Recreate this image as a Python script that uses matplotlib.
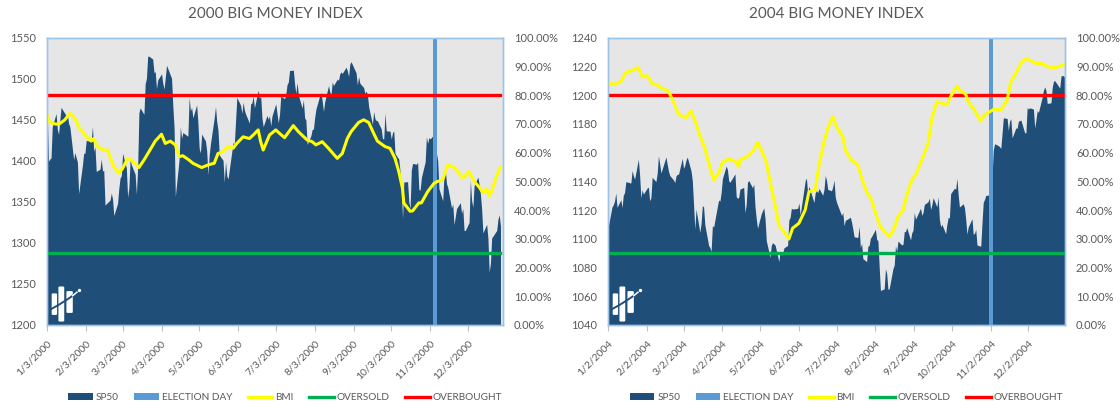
import numpy as np
import pandas as pd
import matplotlib
matplotlib.use('Agg')
import matplotlib.pyplot as plt
from matplotlib.patches import Patch, FancyBboxPatch
from matplotlib.lines import Line2D
from matplotlib.ticker import FuncFormatter, MultipleLocator

plt.rcParams['font.family'] = ['Lato', 'DejaVu Sans']

# ---------------- 2000 data ----------------
holidays_2000 = ['2000-01-17', '2000-02-21', '2000-04-21', '2000-05-29',
                 '2000-07-04', '2000-09-04', '2000-11-23', '2000-12-25']
sp_2000 = [
    # Jan
    1455.2, 1399.4, 1402.1, 1403.5, 1441.5, 1457.6, 1438.6, 1432.3, 1449.7, 1465.2,
    1455.1, 1456.0, 1445.6, 1441.4, 1401.5, 1410.0, 1404.1, 1398.6, 1360.2, 1394.5,
    # Feb
    1409.3, 1409.1, 1425.0, 1424.4, 1424.2, 1441.7, 1411.7, 1416.8, 1387.1, 1389.9,
    1402.1, 1387.7, 1388.3, 1346.1, 1352.2, 1360.7, 1353.4, 1333.4, 1348.1, 1366.4,
    # Mar
    1379.2, 1381.8, 1409.2, 1391.3, 1355.6, 1366.7, 1401.7, 1395.1, 1383.6, 1359.2,
    1392.1, 1458.5, 1464.5, 1456.6, 1493.9, 1500.6, 1527.4, 1527.5, 1523.9, 1507.7,
    1508.5, 1487.9, 1498.6,
    # Apr
    1506.0, 1494.7, 1487.4, 1501.3, 1516.4, 1504.5, 1500.6, 1467.2, 1440.5, 1356.6,
    1401.4, 1441.6, 1427.5, 1434.5, 1429.9, 1477.4, 1461.0, 1464.9, 1452.4,
    # May
    1468.3, 1446.3, 1415.1, 1409.6, 1432.6, 1424.2, 1412.1, 1383.1, 1407.8, 1421.0,
    1452.4, 1466.0, 1447.8, 1437.2, 1407.0, 1400.7, 1373.9, 1399.1, 1381.5, 1378.0,
    1422.4, 1420.6,
    # Jun
    1448.8, 1477.3, 1467.6, 1457.8, 1471.4, 1461.7, 1457.0, 1446.0, 1469.4, 1470.5,
    1478.7, 1464.5, 1486.0, 1476.0, 1479.1, 1452.2, 1441.5, 1455.3, 1450.6, 1454.8,
    1442.4, 1454.6,
    # Jul
    1469.5, 1446.2, 1456.7, 1478.9, 1475.6, 1480.9, 1492.9, 1495.8, 1510.0, 1510.5,
    1493.7, 1482.0, 1495.6, 1480.2, 1464.3, 1474.5, 1452.4, 1449.6, 1419.9, 1430.8,
    # Aug
    1438.1, 1438.7, 1452.6, 1462.9, 1479.3, 1482.8, 1472.9, 1460.3, 1471.8, 1491.6,
    1484.4, 1479.9, 1496.1, 1491.7, 1499.5, 1498.1, 1506.0, 1508.3, 1506.5, 1514.1,
    1509.8, 1502.6, 1517.7,
    # Sep
    1520.8, 1507.1, 1492.3, 1502.5, 1494.5, 1489.3, 1482.0, 1484.9, 1480.9, 1465.8,
    1444.5, 1459.9, 1451.3, 1449.1, 1448.7, 1439.0, 1427.2, 1426.6, 1458.3, 1436.5,
    # Oct
    1436.2, 1426.5, 1434.3, 1436.3, 1409.0, 1402.0, 1387.0, 1364.6, 1329.8, 1374.2,
    1374.6, 1350.0, 1342.1, 1388.8, 1396.9, 1395.8, 1398.1, 1364.9, 1364.4, 1379.6,
    1398.7, 1429.4,
    # Nov
    1421.2, 1428.3, 1426.7, 1432.2, 1431.9, 1409.3, 1400.1, 1366.0, 1351.3, 1383.0,
    1389.8, 1372.3, 1367.7, 1342.6, 1347.4, 1322.4, 1341.8, 1349.0, 1336.1, 1341.9,
    1315.0,
    # Dec
    1315.2, 1325.0, 1376.5, 1351.5, 1343.6, 1369.9, 1380.2, 1371.2, 1360.0, 1340.9,
    1312.2, 1322.7, 1305.6, 1264.7, 1274.9, 1306.0, 1315.2, 1328.9, 1334.2, 1320.3,
]
bmi_2000_dates = [
    '2000-01-03', '2000-01-05', '2000-01-10', '2000-01-13', '2000-01-17', '2000-01-21',
    '2000-01-25', '2000-01-28', '2000-02-02', '2000-02-07', '2000-02-09', '2000-02-11',
    '2000-02-16', '2000-02-20', '2000-02-23', '2000-02-25', '2000-02-29', '2000-03-03',
    '2000-03-07', '2000-03-10', '2000-03-13', '2000-03-16', '2000-03-20', '2000-03-24',
    '2000-03-29', '2000-04-03', '2000-04-06', '2000-04-10', '2000-04-14', '2000-04-17',
    '2000-04-20', '2000-04-25', '2000-04-28', '2000-05-05', '2000-05-10', '2000-05-15',
    '2000-05-18', '2000-05-22', '2000-05-26', '2000-05-30', '2000-06-02', '2000-06-07',
    '2000-06-12', '2000-06-15', '2000-06-19', '2000-06-21', '2000-06-23', '2000-06-28',
    '2000-07-03', '2000-07-06', '2000-07-10', '2000-07-17', '2000-07-21', '2000-07-28',
    '2000-08-01', '2000-08-04', '2000-08-09', '2000-08-14', '2000-08-21', '2000-08-25',
    '2000-08-29', '2000-09-01', '2000-09-07', '2000-09-11', '2000-09-15', '2000-09-19',
    '2000-09-22', '2000-09-28', '2000-10-02', '2000-10-06', '2000-10-09', '2000-10-12',
    '2000-10-13', '2000-10-18', '2000-10-20', '2000-10-25', '2000-10-27', '2000-11-01',
    '2000-11-06', '2000-11-09', '2000-11-13', '2000-11-17', '2000-11-21', '2000-11-24',
    '2000-11-29', '2000-12-04', '2000-12-08', '2000-12-12', '2000-12-15', '2000-12-18',
    '2000-12-20', '2000-12-22', '2000-12-26', '2000-12-29',
]
bmi_2000 = [
    73.1, 70.5, 69.9, 70.1, 71.4, 73.7, 71.9, 69.0, 66.1, 64.0, 64.9, 62.7,
    60.9, 60.9, 57.4, 55.1, 52.8, 54.5, 58.0, 57.4, 56.3, 54.8, 57.4, 60.3,
    64.0, 66.4, 63.2, 64.0, 62.7, 58.6, 58.9, 57.4, 56.3, 54.8, 55.7, 56.3,
    59.7, 60.3, 62.1, 61.5, 63.2, 65.5, 64.9, 66.1, 67.9, 63.8, 60.9, 66.1,
    67.9, 66.7, 65.2, 69.4, 67.3, 64.4, 63.8, 62.7, 63.8, 61.5, 58.0, 59.7,
    64.9, 67.3, 70.5, 71.4, 70.5, 66.7, 64.0, 62.1, 61.5, 58.0, 53.4, 47.4,
    42.5, 39.6, 39.7, 42.5, 42.5, 46.4, 49.3, 50.0, 50.5, 55.7, 55.1, 54.0,
    51.1, 53.4, 50.0, 48.0, 46.0, 47.5, 45.0, 46.5, 52.0, 55.0,
]
ticks_2000 = ['2000-%02d-03' % m for m in range(1, 13)]
election_2000 = '2000-11-07'

# ---------------- 2004 data ----------------
holidays_2004 = ['2004-01-01', '2004-01-19', '2004-02-16', '2004-04-09', '2004-05-31',
                 '2004-06-11', '2004-07-05', '2004-09-06', '2004-11-25', '2004-12-24']
sp_2004 = [
    # Jan
    1108.5, 1122.2, 1123.7, 1126.3, 1131.9, 1121.9, 1127.2, 1121.8, 1130.5, 1132.1,
    1139.8, 1138.8, 1147.6, 1143.9, 1141.6, 1155.4, 1144.1, 1128.5, 1134.1, 1131.1,
    # Feb
    1135.3, 1136.0, 1126.5, 1128.6, 1142.8, 1139.8, 1145.5, 1157.8, 1152.1, 1145.8,
    1157.0, 1151.8, 1147.1, 1144.1, 1141.0, 1139.1, 1143.7, 1144.9, 1144.9,
    # Mar
    1156.0, 1149.1, 1151.0, 1154.9, 1156.9, 1147.2, 1140.6, 1123.9, 1106.8, 1120.6,
    1104.5, 1110.7, 1123.0, 1122.3, 1109.8, 1095.4, 1093.9, 1091.3, 1109.2, 1108.1,
    1122.5, 1127.0, 1126.2,
    # Apr
    1132.2, 1141.8, 1150.6, 1148.2, 1140.5, 1139.3, 1145.2, 1129.4, 1128.2, 1128.8,
    1134.6, 1135.8, 1118.2, 1124.1, 1139.3, 1140.6, 1135.5, 1138.1, 1122.4, 1113.9,
    1107.3,
    # May
    1117.5, 1119.6, 1121.5, 1114.0, 1098.7, 1087.1, 1095.5, 1097.3, 1096.4, 1095.7,
    1084.1, 1091.5, 1088.7, 1089.2, 1093.6, 1095.4, 1113.1, 1114.9, 1121.3, 1120.7,
    # Jun
    1121.2, 1125.0, 1116.6, 1122.5, 1140.4, 1142.2, 1131.3, 1136.5, 1125.3, 1132.0,
    1133.6, 1132.1, 1135.0, 1130.3, 1134.4, 1144.1, 1140.7, 1134.4, 1133.4, 1136.2,
    1140.8,
    # Jul
    1128.9, 1125.4, 1116.2, 1118.3, 1109.1, 1112.8, 1114.4, 1115.1, 1111.5, 1106.7,
    1101.4, 1100.9, 1108.7, 1093.9, 1096.8, 1086.2, 1084.1, 1094.8, 1095.4, 1100.4,
    1101.7,
    # Aug
    1106.6, 1099.7, 1098.6, 1080.7, 1064.0, 1065.2, 1079.0, 1075.8, 1064.8, 1065.2,
    1079.3, 1081.7, 1095.2, 1091.2, 1098.4, 1095.7, 1096.2, 1105.0, 1105.1, 1107.8,
    1099.2, 1104.2,
    # Sep
    1105.9, 1118.3, 1113.6, 1121.3, 1116.3, 1118.4, 1123.9, 1125.8, 1128.3, 1120.4,
    1123.5, 1128.6, 1122.2, 1129.3, 1113.6, 1108.4, 1110.1, 1103.5, 1110.1, 1114.8,
    1114.6,
    # Oct
    1131.5, 1135.2, 1134.5, 1142.1, 1130.7, 1122.1, 1124.4, 1121.8, 1113.7, 1103.3,
    1108.2, 1114.0, 1103.2, 1103.7, 1106.5, 1095.7, 1094.8, 1111.1, 1125.4, 1127.4,
    1130.2,
    # Nov
    1130.5, 1130.6, 1143.2, 1161.7, 1166.2, 1164.9, 1164.1, 1162.9, 1173.5, 1184.2,
    1183.8, 1175.4, 1181.9, 1183.6, 1170.3, 1177.2, 1176.9, 1181.8, 1182.7, 1173.8,
    1173.8,
    # Dec
    1191.4, 1190.3, 1191.2, 1190.3, 1177.1, 1182.8, 1189.2, 1188.0, 1198.7, 1203.4,
    1205.7, 1203.2, 1194.2, 1194.7, 1205.5, 1209.6, 1210.1, 1204.9, 1213.5, 1213.5,
    1213.6, 1211.9,
]
bmi_2004_dates = [
    '2004-01-02', '2004-01-07', '2004-01-12', '2004-01-16', '2004-01-20', '2004-01-26',
    '2004-01-29', '2004-02-02', '2004-02-06', '2004-02-10', '2004-02-13', '2004-02-19',
    '2004-02-23', '2004-02-27', '2004-03-04', '2004-03-08', '2004-03-11', '2004-03-15',
    '2004-03-19', '2004-03-23', '2004-03-26', '2004-03-30', '2004-04-02', '2004-04-07',
    '2004-04-12', '2004-04-15', '2004-04-16', '2004-04-23', '2004-04-27', '2004-04-30',
    '2004-05-03', '2004-05-07', '2004-05-10', '2004-05-14', '2004-05-17', '2004-05-21',
    '2004-05-25', '2004-05-28', '2004-06-02', '2004-06-07', '2004-06-10', '2004-06-15',
    '2004-06-18', '2004-06-22', '2004-06-25', '2004-06-29', '2004-07-02', '2004-07-07',
    '2004-07-09', '2004-07-14', '2004-07-19', '2004-07-22', '2004-07-26', '2004-07-30',
    '2004-08-03', '2004-08-06', '2004-08-13', '2004-08-17', '2004-08-20', '2004-08-24',
    '2004-08-27', '2004-08-31', '2004-09-03', '2004-09-08', '2004-09-13', '2004-09-16',
    '2004-09-20', '2004-09-24', '2004-09-28', '2004-10-01', '2004-10-06', '2004-10-08',
    '2004-10-13', '2004-10-15', '2004-10-20', '2004-10-25', '2004-10-28', '2004-11-01',
    '2004-11-05', '2004-11-10', '2004-11-15', '2004-11-18', '2004-11-22', '2004-11-26',
    '2004-11-30', '2004-12-03', '2004-12-08', '2004-12-13', '2004-12-17', '2004-12-22',
    '2004-12-27', '2004-12-31',
]
bmi_2004 = [
    84.1, 83.8, 84.7, 87.9, 88.4, 89.6, 86.4, 86.8, 84.1, 83.5, 82.6, 81.4,
    77.7, 73.3, 72.2, 74.5, 71.4, 66.1, 61.5, 55.1, 50.5, 52.8, 56.6, 57.8,
    57.1, 55.1, 57.4, 58.9, 60.9, 63.6, 60.9, 56.8, 49.9, 41.8, 34.8, 32.5,
    29.9, 33.7, 35.4, 40.0, 46.4, 46.9, 55.5, 63.8, 68.5, 72.5, 69.0, 65.5,
    60.9, 57.4, 55.7, 51.1, 46.4, 43.5, 37.7, 34.2, 30.7, 33.6, 37.7, 40.0,
    45.2, 50.5, 52.2, 57.4, 63.2, 71.9, 77.7, 77.2, 76.6, 79.5, 83.2, 81.8,
    80.3, 77.7, 74.8, 71.0, 73.1, 74.2, 75.2, 74.8, 78.3, 84.7, 87.6, 91.1,
    92.8, 92.2, 91.1, 91.0, 90.0, 89.5, 90.0, 90.8,
]
ticks_2004 = ['2004-%02d-02' % m for m in range(1, 13)]
election_2004 = '2004-11-02'

OVERSOLD = 25.0
OVERBOUGHT = 80.0

NAVY = '#1F4E79'
ELEC = '#5B9BD5'
GREY_TXT = '#595959'
BORDER = '#9DC3E6'


def add_logo(ax):
    t = ax.transAxes
    bars = [(0.0097, 0.0215, 0.035, 0.110),
            (0.0245, 0.0372, 0.012, 0.134),
            (0.0420, 0.0560, 0.042, 0.118)]
    for x0, x1, y0, y1 in bars:
        ax.add_patch(FancyBboxPatch((x0, y0), x1 - x0, y1 - y0,
                                    boxstyle='round,pad=0,rounding_size=0.003',
                                    transform=t, fc='white', ec='none', zorder=4))
    ax.plot([0.008, 0.025, 0.042, 0.056], [0.055, 0.070, 0.087, 0.102],
            color=NAVY, lw=1.4, transform=t, zorder=5)
    ax.plot([0.056, 0.065], [0.102, 0.114], color='white', lw=1.1,
            transform=t, zorder=5)
    ax.plot([0.0700], [0.121], 'o', color='white', ms=1.4, transform=t, zorder=5)


def draw_panel(rect, title, holidays, sp, bmi_dates, bmi, ticks, election,
               x_end, ylo, yhi, ystep):
    ax = fig.add_axes(rect)
    days = pd.bdate_range(ticks[0][:4] + '-01-01', ticks[0][:4] + '-12-31',
                          freq='C', holidays=holidays)
    days = days[:len(sp)]
    ax.set_facecolor('#E7E6E6')
    ax.fill_between(days, sp, ylo, color=NAVY, lw=0, zorder=2)
    e = pd.Timestamp(election)
    ax.axvspan(e - pd.Timedelta(hours=42), e + pd.Timedelta(hours=42),
               color=ELEC, lw=0, zorder=3)
    ax.set_ylim(ylo, yhi)
    ax.yaxis.set_major_locator(MultipleLocator(ystep))
    ax.set_xlim(days[0], pd.Timestamp(x_end))
    tk = pd.to_datetime(ticks)
    ax.set_xticks(tk)
    ax.set_xticklabels(['%d/%d/%d' % (d.month, d.day, d.year) for d in tk],
                       rotation=45, ha='right', rotation_mode='anchor')
    ax.tick_params(axis='x', length=4, color='#BFBFBF', labelsize=7.5,
                   labelcolor=GREY_TXT, pad=6)
    ax.tick_params(axis='y', length=0, labelsize=8, labelcolor=GREY_TXT, pad=8)
    for s in ax.spines.values():
        s.set_color(BORDER)
        s.set_linewidth(1)
    ax.set_title(title, fontsize=11, color=GREY_TXT, pad=14)
    add_logo(ax)

    ax2 = ax.twinx()
    ax2.set_ylim(0, 100)
    ax2.yaxis.set_major_locator(MultipleLocator(10))
    ax2.yaxis.set_major_formatter(FuncFormatter(lambda v, p: '%.2f%%' % v))
    ax2.tick_params(axis='y', length=0, labelsize=8, labelcolor=GREY_TXT, pad=8)
    for s in ax2.spines.values():
        s.set_color(BORDER)
        s.set_linewidth(1)
    ax2.plot(days, [OVERSOLD] * len(days), color='#00B050', lw=2.4)
    ax2.plot(days, [OVERBOUGHT] * len(days), color='#FF0000', lw=2.4)
    ax2.plot(pd.to_datetime(bmi_dates), bmi, color='#FFFF00', lw=2.2)
    ax2.set_xlim(days[0], pd.Timestamp(x_end))

    handles = [Patch(facecolor=NAVY), Patch(facecolor=ELEC),
               Line2D([], [], color='#FFFF00', lw=2.4),
               Line2D([], [], color='#00B050', lw=2.4),
               Line2D([], [], color='#FF0000', lw=2.4)]
    labels = ['SP50', 'ELECTION DAY', 'BMI', 'OVERSOLD', 'OVERBOUGHT']
    leg = ax2.legend(handles, labels, loc='center', bbox_to_anchor=(0.522, -0.253),
                     ncol=5, frameon=False, fontsize=7.2, handlelength=2.45,
                     handleheight=0.6, handletextpad=0.3, columnspacing=1.55)
    for txt in leg.get_texts():
        txt.set_color(GREY_TXT)
    return ax, ax2


fig = plt.figure(figsize=(11.2, 4.12), dpi=100)
draw_panel([0.0422, 0.2112, 0.4069, 0.6973], '2000 BIG MONEY INDEX',
           holidays_2000, sp_2000, bmi_2000_dates, bmi_2000, ticks_2000,
           election_2000, '2000-12-31', 1200, 1550, 50)
draw_panel([0.5431, 0.2112, 0.4076, 0.6973], '2004 BIG MONEY INDEX',
           holidays_2004, sp_2004, bmi_2004_dates, bmi_2004, ticks_2004,
           election_2004, '2004-12-31', 1040, 1240, 20)

fig.savefig('out.png', dpi=100)
